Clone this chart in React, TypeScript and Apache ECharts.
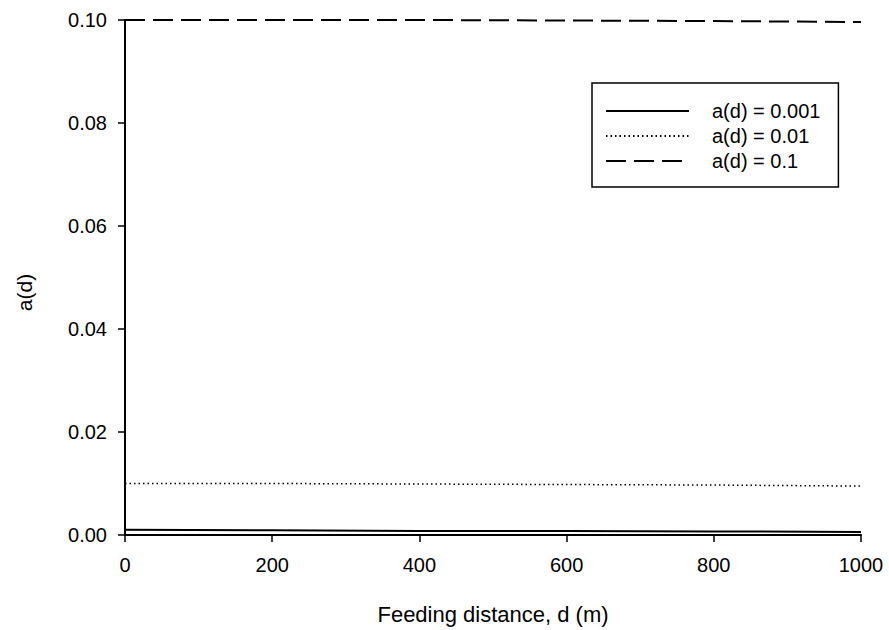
import React, { useEffect, useRef } from "react";
import * as echarts from "echarts";

const distances = [0, 200, 400, 600, 800, 1000];
const seriesNames = ["a(d) = 0.001", "a(d) = 0.01", "a(d) = 0.1"];
const aLow = [0.001, 0.0009, 0.0008, 0.0008, 0.0007, 0.0006];
const aMid = [0.01, 0.01, 0.0099, 0.0098, 0.0097, 0.0095];
const aHigh = [0.1, 0.1, 0.1, 0.0999, 0.0998, 0.0996];
const xTicks = { min: 0, max: 1000, interval: 200 };
const yTicks = { min: 0, max: 0.1, interval: 0.02 };

const FONT = "'Liberation Sans', Arial, sans-serif";

export default function App() {
  const ref = useRef<HTMLDivElement>(null);
  useEffect(() => {
    if (!ref.current) return;
    const chart = echarts.init(ref.current, undefined, { renderer: "svg" });
    const pair = (ys: number[]) => distances.map((d, i) => [d, ys[i]]);
    chart.setOption({
      animation: false,
      backgroundColor: "#ffffff",
      textStyle: { fontFamily: FONT, color: "#000" },
      grid: { left: 125, right: 28, top: 20, bottom: 94 },
      legend: {
        orient: "vertical",
        left: 592,
        top: 83,
        padding: [18, 18, 16, 13],
        itemWidth: 83,
        itemHeight: 20,
        itemGap: 5,
        borderColor: "#000",
        borderWidth: 1.5,
        borderRadius: 0,
        itemStyle: { opacity: 0 },
        textStyle: { fontFamily: FONT, fontSize: 20, color: "#000", padding: [0, 0, 0, 18] },
        data: seriesNames,
      },
      xAxis: {
        type: "value",
        min: xTicks.min,
        max: xTicks.max,
        interval: xTicks.interval,
        name: "Feeding distance, d (m)",
        nameLocation: "middle",
        nameGap: 68,
        nameTextStyle: { fontFamily: FONT, fontSize: 22, color: "#000" },
        axisLine: { show: true, onZero: false, lineStyle: { color: "#000", width: 2 } },
        axisTick: { show: true, inside: false, length: 7, lineStyle: { color: "#000", width: 1.5 } },
        axisLabel: {
          fontFamily: FONT,
          fontSize: 20,
          color: "#000",
          margin: 20,
          formatter: (v: number) => String(v),
        },
        splitLine: { show: false },
      },
      yAxis: {
        type: "value",
        min: yTicks.min,
        max: yTicks.max,
        interval: yTicks.interval,
        name: "a(d)",
        nameLocation: "middle",
        nameGap: 90,
        nameTextStyle: { fontFamily: FONT, fontSize: 21, color: "#000", padding: [0, 30, 0, 0] },
        axisLine: { show: true, onZero: false, lineStyle: { color: "#000", width: 2 } },
        axisTick: { show: true, inside: false, length: 7, lineStyle: { color: "#000", width: 1.5 } },
        axisLabel: {
          fontFamily: FONT,
          fontSize: 20,
          color: "#000",
          margin: 18,
          formatter: (v: number) => v.toFixed(2),
        },
        splitLine: { show: false },
      },
      series: [
        {
          name: seriesNames[0],
          type: "line",
          data: pair(aLow),
          symbol: "none",
          lineStyle: { color: "#000", width: 2, type: "solid" },
          itemStyle: { color: "#000" },
        },
        {
          name: seriesNames[1],
          type: "line",
          data: pair(aMid),
          symbol: "none",
          lineStyle: { color: "#000", width: 1.5, type: [1.5, 3] },
          itemStyle: { color: "#000" },
        },
        {
          name: seriesNames[2],
          type: "line",
          data: pair(aHigh),
          symbol: "none",
          lineStyle: { color: "#000", width: 2, type: [20, 8] },
          itemStyle: { color: "#000" },
        },
      ],
    });
    return () => chart.dispose();
  }, []);
  return <div ref={ref} style={{ width: 889, height: 630, position: "absolute", left: 0, top: 0 }} />;
}
